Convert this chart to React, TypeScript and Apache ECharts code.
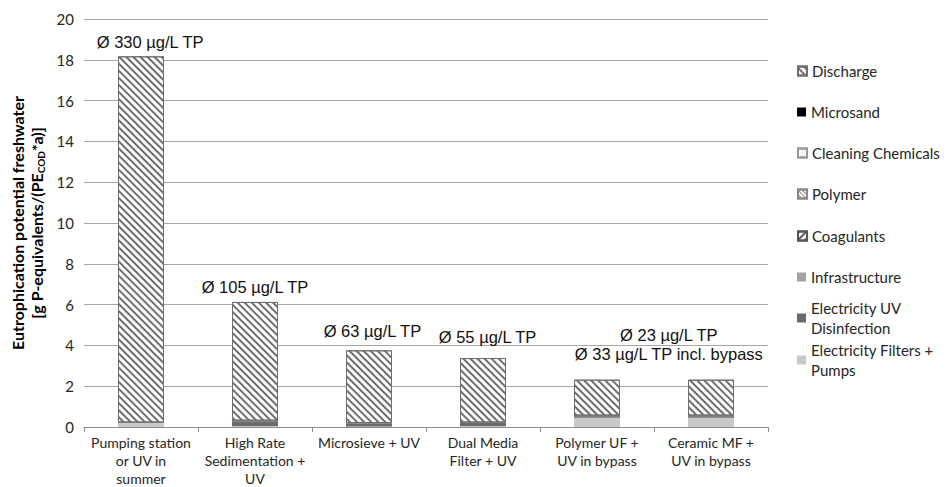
import React, { useEffect, useRef } from "react";
import * as echarts from "echarts";

const categories = [
  "Pumping station\nor UV in\nsummer",
  "High Rate\nSedimentation +\nUV",
  "Microsieve + UV",
  "Dual Media\nFilter + UV",
  "Polymer UF +\nUV in bypass",
  "Ceramic MF +\nUV in bypass",
];

const elecFilters = [0.2, 0.05, 0.02, 0.05, 0.45, 0.45];
const elecUV = [0.0, 0.2, 0.15, 0.15, 0.07, 0.07];
const infrastructure = [0.02, 0.02, 0.02, 0.02, 0.02, 0.02];
const coagulants = [0, 0.03, 0, 0, 0, 0];
const polymer = [0, 0, 0, 0, 0.01, 0.01];
const cleaning = [0, 0, 0, 0, 0.01, 0.01];
const microsand = [0, 0.01, 0, 0, 0, 0];
const discharge = [17.95, 5.82, 3.57, 3.16, 1.76, 1.76];

const yTicks = [0, 2, 4, 6, 8, 10, 12, 14, 16, 18, 20];

const annotLabels = [
  "Ø 330 µg/L TP",
  "Ø 105 µg/L TP",
  "Ø 63 µg/L TP",
  "Ø 55 µg/L TP",
  "Ø 23 µg/L TP",
  "Ø 33 µg/L TP incl. bypass",
];
const annotAt = [0.08, 1, 2.03, 3.04, 4.63, 4.63];
const annotY = [18.85, 6.85, 4.73, 4.4, 4.5, 3.6];

const legendNames = [
  "Discharge",
  "Microsand",
  "Cleaning Chemicals",
  "Polymer",
  "Coagulants",
  "Infrastructure",
  "Electricity UV Disinfection",
  "Electricity Filters + Pumps",
];
const legendText: Record<string, string> = {
  "Electricity UV Disinfection": "Electricity UV\nDisinfection",
  "Electricity Filters + Pumps": "Electricity Filters +\nPumps",
};

const FONT = "Lato, 'Open Sans', sans-serif";

export default function App() {
  const ref = useRef<HTMLDivElement>(null);
  useEffect(() => {
    if (!ref.current) return;
    const chart = echarts.init(ref.current, null, { renderer: "svg" });

    const stripe = (rot: number, color: string, dashY: number[]) => ({
      symbol: "rect",
      symbolSize: 1,
      dashArrayX: [1, 0],
      dashArrayY: dashY,
      rotation: rot,
      color,
      backgroundColor: "#ffffff",
    });

    const mk = (name: string, data: number[], itemStyle: any) => ({
      name,
      type: "bar",
      stack: "total",
      barWidth: 46,
      data,
      itemStyle,
      emphasis: { disabled: true },
    });

    const series = [
      mk("Electricity Filters + Pumps", elecFilters, { color: "#c9c9c9" }),
      mk("Electricity UV Disinfection", elecUV, { color: "#6b6b6b" }),
      mk("Infrastructure", infrastructure, { color: "#a3a3a3" }),
      mk("Coagulants", coagulants, {
        color: "#ffffff",
        borderColor: "#555",
        borderWidth: 0.5,
        decal: stripe(-Math.PI / 4, "#555555", [1.5, 2.5]),
      }),
      mk("Polymer", polymer, {
        color: "#ffffff",
        borderColor: "#888",
        borderWidth: 0.5,
        decal: stripe(Math.PI / 4, "#888888", [1, 1.5]),
      }),
      mk("Cleaning Chemicals", cleaning, {
        color: "#ffffff",
        borderColor: "#999",
        borderWidth: 0.5,
        decal: {
          symbol: "rect",
          symbolSize: 0.6,
          dashArrayX: [1, 1],
          dashArrayY: [1, 1],
          color: "#999999",
          backgroundColor: "#ffffff",
        },
      }),
      mk("Microsand", microsand, { color: "#000000" }),
      mk("Discharge", discharge, {
        color: "#ffffff",
        borderColor: "#6e6e6e",
        borderWidth: 1,
        decal: stripe(Math.PI / 4, "#6e6e6e", [2, 2.6]),
      }),
    ];

    const centers = [71, 112, 153, 194, 236, 277, 318, 360];
    const legends = legendNames.map((n, i) => {
      const multi = !!legendText[n];
      return {
        data: [
          multi
            ? { name: n, textStyle: { padding: [20, 0, 0, 0] } }
            : { name: n },
        ],
        left: 797,
        top: multi ? centers[i] - 30 : centers[i] - 10,
        orient: "vertical",
        padding: 0,
        icon: "rect",
        itemWidth: 9,
        itemHeight: 9,
        selectedMode: false,
        formatter: (nm: string) => legendText[nm] || nm,
        textStyle: {
          fontFamily: FONT,
          fontSize: 15,
          lineHeight: 20,
          color: "#262626",
        },
      };
    });

    const option: any = {
      animation: false,
      backgroundColor: "#ffffff",
      grid: { left: 84, right: 179, top: 19, bottom: 56, containLabel: false },
      legend: legends,
      xAxis: {
        type: "category",
        data: categories,
        axisLine: { lineStyle: { color: "#8c8c8c", width: 1 } },
        axisTick: { show: true, length: 5, lineStyle: { color: "#8c8c8c" } },
        axisLabel: {
          interval: 0,
          fontFamily: FONT,
          fontSize: 14,
          lineHeight: 18,
          color: "#262626",
          margin: 6,
        },
      },
      yAxis: {
        type: "value",
        min: 0,
        max: 20,
        interval: 2,
        axisLine: { show: false },
        axisTick: { show: false },
        splitLine: { lineStyle: { color: "#a6a6a6", width: 1 } },
        axisLabel: {
          fontFamily: FONT,
          fontSize: 15,
          color: "#262626",
          margin: 10,
          formatter: (v: number) => (yTicks.includes(v) ? String(v) : ""),
        },
        name:
          "{b|Eutrophication potential freshwater}\n{b|[g P-equivalents/(PE}{s|COD}{b|*a)]}",
        nameLocation: "middle",
        nameRotate: 90,
        nameGap: 30,
        nameTextStyle: {
          rich: {
            b: {
              fontFamily: FONT,
              fontWeight: "bold",
              fontSize: 16,
              lineHeight: 19,
              color: "#000",
            },
            s: {
              fontFamily: FONT,
              fontWeight: "bold",
              fontSize: 10,
              lineHeight: 10,
              verticalAlign: "bottom",
              color: "#000",
            },
          },
        },
      },
      series,
    };

    chart.setOption(option);

    const catX = (c: number) => {
      const i = Math.floor(c);
      const f = c - i;
      const a = chart.convertToPixel({ gridIndex: 0 }, [i, 0]) as number[];
      const b = chart.convertToPixel({ gridIndex: 0 }, [i + 1, 0]) as number[];
      return a[0] + f * (b[0] - a[0]);
    };
    const graphic = annotLabels.map((t, k) => {
      const p = chart.convertToPixel({ gridIndex: 0 }, [0, annotY[k]]) as number[];
      return {
        type: "text",
        x: catX(annotAt[k]),
        y: p[1],
        z: 100,
        style: {
          text: t,
          fill: "#111111",
          fontFamily: "'Liberation Sans', Arial, sans-serif",
          fontSize: 16.5,
          align: "center",
          verticalAlign: "middle",
        },
      };
    });
    chart.setOption({ graphic });

    return () => chart.dispose();
  }, []);

  return (
    <div
      ref={ref}
      style={{ position: "fixed", left: 0, top: 0, width: 947, height: 487, background: "#fff" }}
    />
  );
}
